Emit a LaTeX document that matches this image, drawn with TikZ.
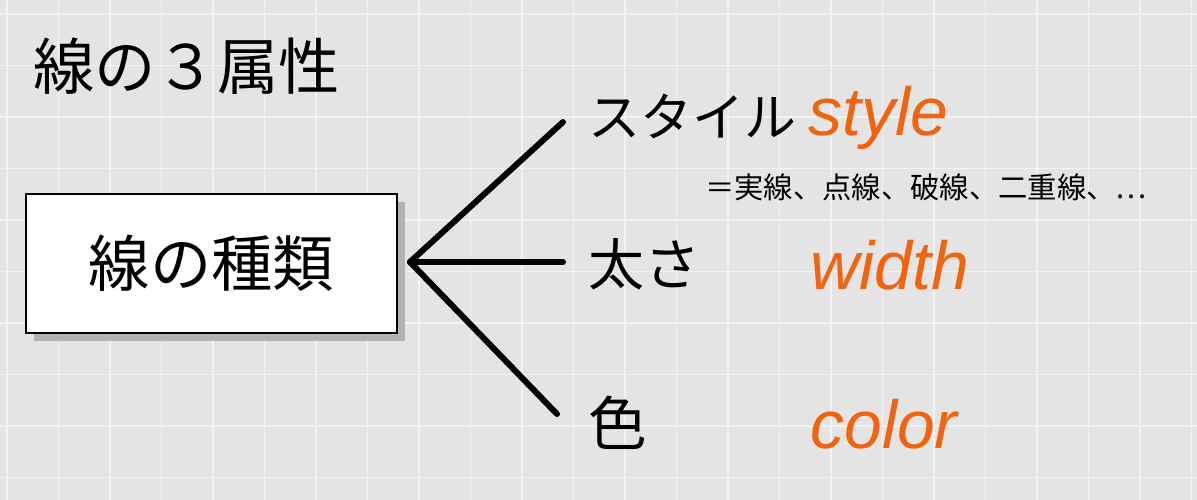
\documentclass[tikz,border=0pt]{standalone}
\usepackage{fontspec}
\setmainfont{Liberation Sans}
\newfontfamily\jp{Noto Sans CJK JP}
\definecolor{bg}{HTML}{E4E4E4}
\definecolor{gridc}{HTML}{F2F2F2}
\definecolor{org}{HTML}{F0640F}
\begin{document}
\begin{tikzpicture}[x=0.75pt,y=-0.75pt,
  jt/.style={font=\jp\fontsize{#1}{#1}\selectfont, inner sep=0pt, anchor=west},
  en/.style={font=\itshape\fontsize{51}{51}\selectfont, text=org, inner sep=0pt, anchor=west},
  branch/.style={line width=4.5pt, line cap=round}]
\fill[bg] (0,0) rectangle (1197,500);
\useasboundingbox (0,0) rectangle (1197,500);
\foreach \i in {0,...,23} \draw[gridc, line width=1pt] (7+\i*51.5,0) -- (7+\i*51.5,500);
\foreach \i in {0,...,9} \draw[gridc, line width=1pt] (0,14+\i*51.5) -- (1197,14+\i*51.5);
\fill[black!30] (34,202) rectangle (405,341);
\draw[line width=1.2pt, fill=white] (26,194) rectangle (397,333);
\coordinate (bc) at (211.5,263.5);
\node[jt=46, anchor=center] (bt) at (bc) {線の種類};
\node[jt=46] (title) at (33,66) {線の３属性};
\coordinate (o) at (410,262);
\coordinate (e1) at (563,122);
\coordinate (e2) at (563,262);
\coordinate (e3) at (557,414);
\draw[branch] (o) -- (e1);
\draw[branch] (o) -- (e2);
\draw[branch] (o) -- (e3);
\node[jt=39] (s) at (588,116) {スタイル};
\node[jt=42] (w) at (588,264) {太さ};
\node[jt=44] (c) at (588,423) {色};
\node[en] (se) at (808,118) {style};
\node[en] (we) at (810,265) {width};
\node[en] (ce) at (810,424) {color};
\node[jt=22] (sub) at (705,187) {＝実線、点線、破線、二重線、…};
\end{tikzpicture}
\end{document}
